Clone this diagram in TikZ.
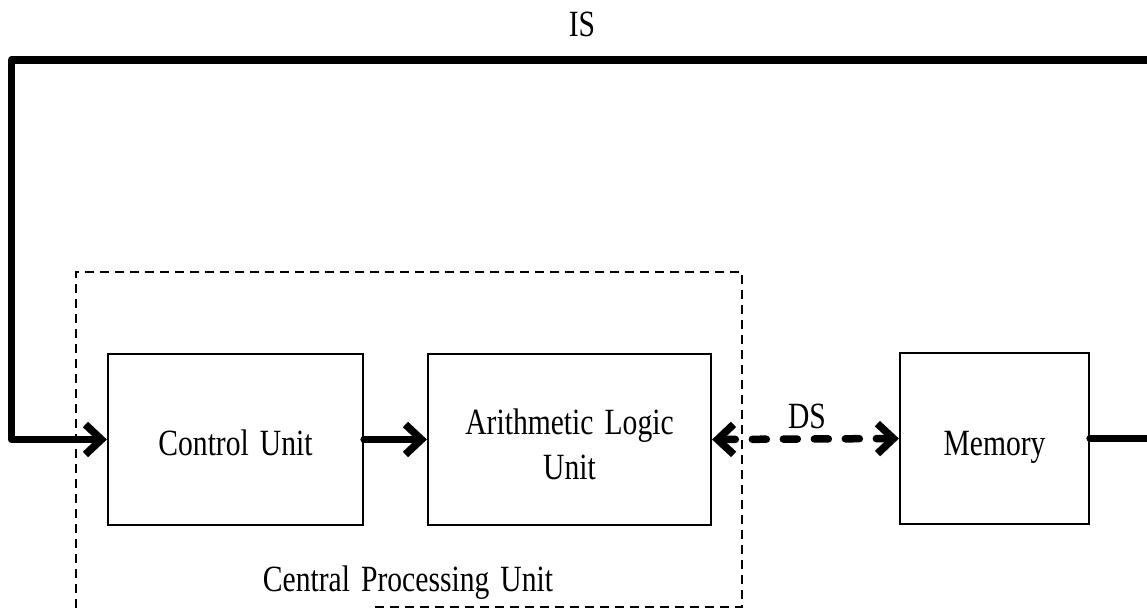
\documentclass[tikz,border=0pt]{standalone}
\usepackage{fontspec}
\setmainfont{Liberation Serif}[FakeStretch=0.80, WordSpace=1.5]
\usetikzlibrary{arrows.meta}
\tikzset{
  >={Straight Barb[length=16pt,width=30pt]},
  unit/.style={draw, line width=2.2pt, inner sep=0pt},
  txt/.style={font=\fontsize{37}{45}\selectfont, inner sep=0pt, align=center},
  bus/.style={line width=7.5pt, line cap=round, line join=round},
  databus/.style={bus, dash pattern=on 14pt off 17pt},
  frame/.style={line width=2.2pt, dash pattern=on 9pt off 6pt}
}
\begin{document}
\begin{tikzpicture}[x=1pt,y=-1pt]
\useasboundingbox (0,0) rectangle (1147,610);

% functional blocks
\node[unit, minimum width=255pt, minimum height=171pt] (cu)  at (235.5,439.5) {};
\node[unit, minimum width=283pt, minimum height=171pt] (alu) at (569.5,439.5) {};
\node[unit, minimum width=189pt, minimum height=171pt] (mem) at (994.5,438.5) {};
\node[txt, anchor=base] (cutext)  at (cu.center |- 0,455)  {Control Unit};
\node[txt] (alutext) at (569.5,444) {Arithmetic Logic\\Unit};
\node[txt, anchor=base] (memtext) at (mem.center |- 0,455) {Memory};

% CPU boundary
\draw[frame] (375,607) -- (742,607) -- (742,272) -- (76,272) -- (76,614);
\node[txt, anchor=base] (cpu) at (408,591) {Central Processing Unit};

% instruction stream loop
\coordinate (rturn) at (1170,440);
\coordinate (ltop) at (11.5,60);
\draw[bus,->] (mem.east) -- (mem.east -| rturn) |- (ltop) |- (cu.west);
\node[txt, anchor=base] (is) at (582,37) {IS};

% internal transfer and data stream
\draw[bus,->] (cu.east) -- (alu.west);
\draw[databus,<->] (alu.east) -- (mem.west);
\node[txt, anchor=base] (ds) at (807,428) {DS};
\end{tikzpicture}
\end{document}
